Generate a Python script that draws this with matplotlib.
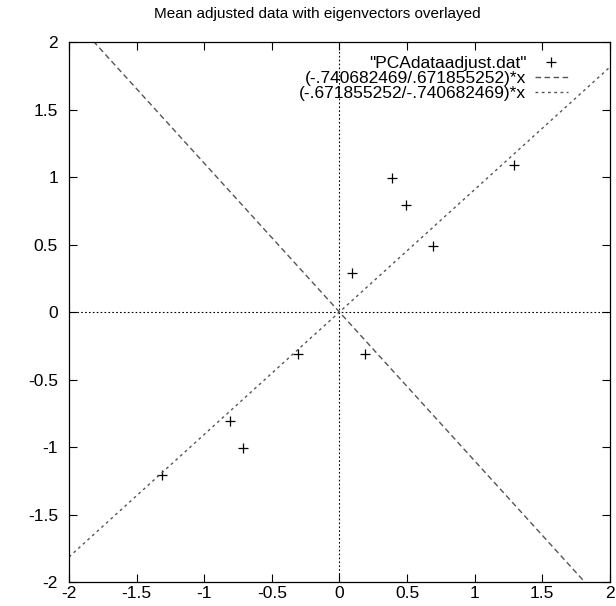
import numpy as np
import matplotlib
matplotlib.use("Agg")
import matplotlib.pyplot as plt

plt.rcParams["font.family"] = ["Liberation Sans", "DejaVu Sans"]

# mean adjusted data
x_adj = [0.69, -1.31, 0.39, 0.09, 1.29, 0.49, 0.19, -0.81, -0.31, -0.71]
y_adj = [0.49, -1.21, 0.99, 0.29, 1.09, 0.79, -0.31, -0.81, -0.31, -1.01]

# eigenvector components
ev1 = (-0.740682469, 0.671855252)
ev2 = (-0.671855252, -0.740682469)

fig = plt.figure(figsize=(6.16, 6.06), dpi=100)
ax = fig.add_axes([0.112, 0.0396, 0.878, 0.891])

xs = np.linspace(-2, 2, 200)
ax.axhline(0, color="black", lw=0.8, ls=(0, (1.5, 2)), zorder=1)
ax.axvline(0, color="black", lw=0.8, ls=(0, (1.5, 2)), zorder=1)

ax.plot(x_adj, y_adj, ls="none", marker="+", ms=6.5, mew=0.9, color="black",
        label='"PCAdataadjust.dat"')
ax.plot(xs, ev1[0] / ev1[1] * xs, color="#555555", lw=1.0, ls=(0, (4, 2.5)),
        label="(-.740682469/.671855252)*x")
ax.plot(xs, ev2[0] / ev2[1] * xs, color="#555555", lw=1.0, ls=(0, (2, 2.5)),
        label="(-.671855252/-.740682469)*x")

ax.set_xlim(-2, 2)
ax.set_ylim(-2, 2)
ticks = np.arange(-2, 2.01, 0.5)
ax.set_xticks(ticks)
ax.set_yticks(ticks)
ax.set_xticklabels([f"{t:g}" for t in ticks])
ax.set_yticklabels([f"{t:g}" for t in ticks])
ax.tick_params(direction="in", top=True, right=True, length=6, width=0.8,
               labelsize=12.5)
ax.tick_params(axis="y", pad=8)
ax.tick_params(axis="x", pad=3)
for s in ax.spines.values():
    s.set_linewidth(0.9)

fig.text(317 / 616, 1 - 14 / 606, "Mean adjusted data with eigenvectors overlayed",
         fontsize=11, ha="center", va="center")

ax.legend(loc="upper right", bbox_to_anchor=(0.948, 1.0), frameon=False,
          markerfirst=False, fontsize=12.5, handlelength=1.9,
          borderaxespad=0.4, labelspacing=0.0, handletextpad=0.5)

fig.savefig("out.png", dpi=100)
